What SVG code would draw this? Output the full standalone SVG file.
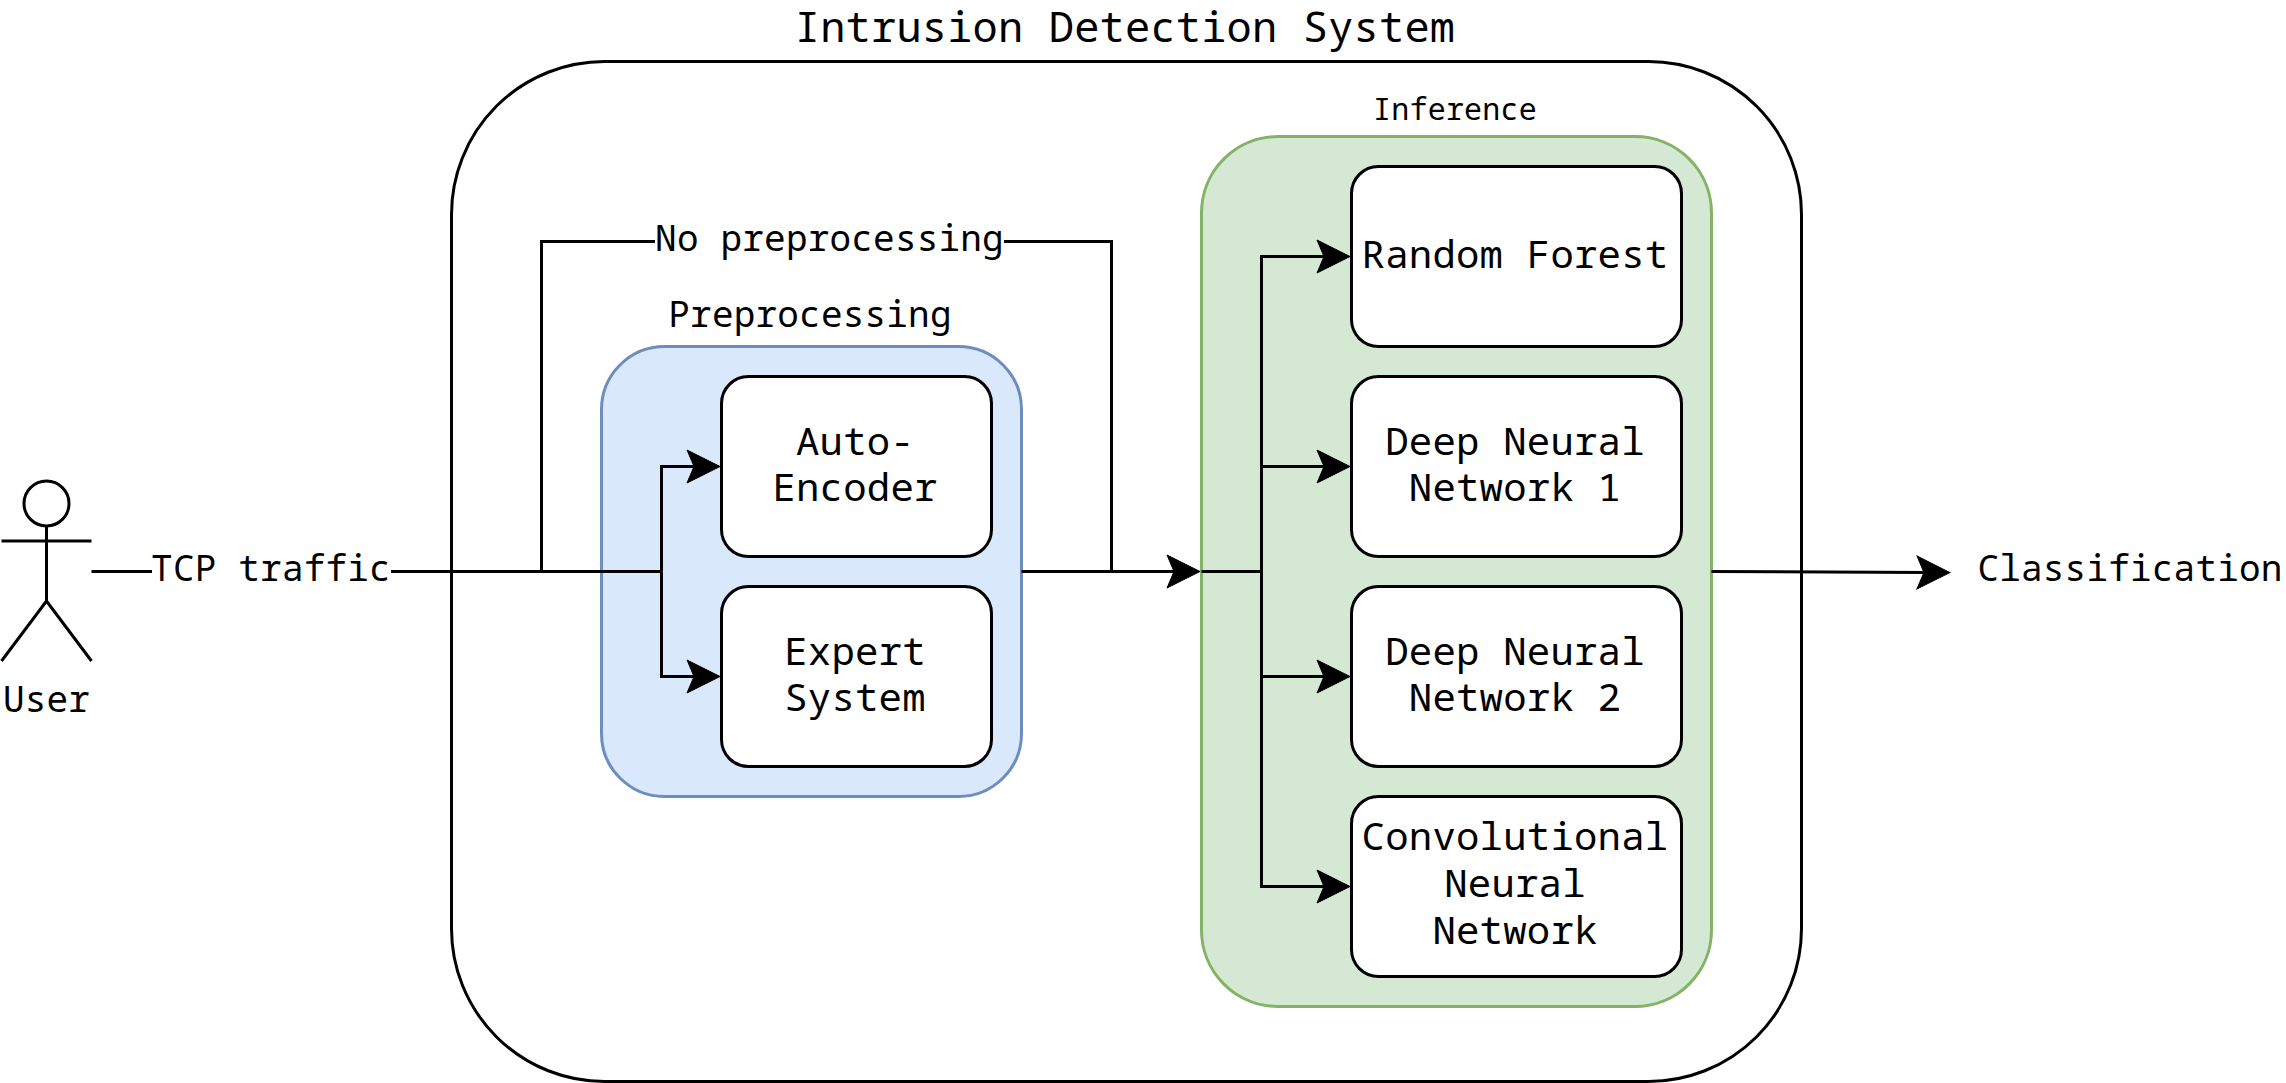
<svg xmlns="http://www.w3.org/2000/svg" width="2286" height="1083" viewBox="0 0 2286 1083">
<style>
text{font-family:"Noto Sans Mono","DejaVu Sans Mono",monospace;fill:#000;text-anchor:middle;letter-spacing:.2px}
.f42{font-size:42px}.f39{font-size:39px}.f36{font-size:36px}.f30{font-size:30px}
.box{fill:#fff;stroke:#000;stroke-width:3}
.line{fill:none;stroke:#000;stroke-width:3}
.arrow{marker-end:url(#classic)}
</style>
<defs>
<marker id="classic" markerUnits="userSpaceOnUse" markerWidth="40" markerHeight="40" viewBox="0 0 40 40" refX="9" refY="20" orient="auto" overflow="visible">
<path d="M33 20L0 3.5L7 20L0 36.5Z" fill="#000" stroke="#000" stroke-width="1"/>
</marker>
</defs>
<rect width="2286" height="1083" fill="#fff"/>
<g id="ids">
<rect class="box" x="451.5" y="61.5" width="1350" height="1020" rx="153" ry="153"/>
<text class="f42" x="1125" y="42">Intrusion Detection System</text>
</g>
<g id="preprocessing">
<rect x="601.5" y="346.5" width="420" height="450" rx="63" ry="63" fill="#dae8fc" stroke="#6c8ebf" stroke-width="3"/>
<text class="f36" x="810" y="327">Preprocessing</text>
</g>
<g id="inference">
<rect x="1201.5" y="136.5" width="510" height="870" rx="76.5" ry="76.5" fill="#d5e8d4" stroke="#82b366" stroke-width="3"/>
<text class="f30" x="1455" y="120">Inference</text>
</g>
<g id="connectors">
<path class="line" d="M91.5 571.5H661.5"/>
<path class="line arrow" d="M661.5 571.5V466.5H696"/>
<path class="line arrow" d="M661.5 571.5V676.5H696"/>
<path class="line" d="M541.5 571.5V241.5H1111.5V571.5"/>
<path class="line arrow" d="M1021.5 571.5H1176"/>
<path class="line" d="M1201.5 571.5H1261.5"/>
<path class="line arrow" d="M1261.5 571.5V256.5H1326"/>
<path class="line arrow" d="M1261.5 571.5V466.5H1326"/>
<path class="line arrow" d="M1261.5 571.5V676.5H1326"/>
<path class="line arrow" d="M1261.5 571.5V886.5H1326"/>
<path class="line arrow" d="M1711.5 571.5L1926 572.5"/>
<g id="label-tcp"><rect x="152" y="550" width="239" height="42" fill="#fff"/><text class="f36" x="271" y="581">TCP traffic</text></g>
<g id="label-nopre"><rect x="655" y="220" width="349" height="42" fill="#fff"/><text class="f36" x="829.5" y="251">No preprocessing</text></g>
</g>
<g id="user">
<g class="line"><ellipse cx="46.5" cy="503.5" rx="22.5" ry="22.5"/><path d="M46.5 526V601M1.5 541H91.5M1.5 661L46.5 601L91.5 661"/></g>
<text class="f36" x="46.5" y="712">User</text>
</g>
<g id="autoencoder">
<rect class="box" x="721.5" y="376.5" width="270" height="180" rx="27" ry="27"/>
<text class="f39" x="855" y="455">Auto-</text><text class="f39" x="855" y="501">Encoder</text>
</g>
<g id="expert">
<rect class="box" x="721.5" y="586.5" width="270" height="180" rx="27" ry="27"/>
<text class="f39" x="855" y="665">Expert</text><text class="f39" x="855" y="711">System</text>
</g>
<g id="rf">
<rect class="box" x="1351.5" y="166.5" width="330" height="180" rx="27" ry="27"/>
<text class="f39" x="1515" y="268">Random Forest</text>
</g>
<g id="dnn1">
<rect class="box" x="1351.5" y="376.5" width="330" height="180" rx="27" ry="27"/>
<text class="f39" x="1515" y="455">Deep Neural</text><text class="f39" x="1515" y="501">Network 1</text>
</g>
<g id="dnn2">
<rect class="box" x="1351.5" y="586.5" width="330" height="180" rx="27" ry="27"/>
<text class="f39" x="1515" y="665">Deep Neural</text><text class="f39" x="1515" y="711">Network 2</text>
</g>
<g id="cnn">
<rect class="box" x="1351.5" y="796.5" width="330" height="180" rx="27" ry="27"/>
<text class="f39" x="1515" y="850">Convolutional</text><text class="f39" x="1515" y="897">Neural</text><text class="f39" x="1515" y="944">Network</text>
</g>
<g id="classification">
<text class="f36" x="2130" y="581">Classification</text>
</g>
</svg>
